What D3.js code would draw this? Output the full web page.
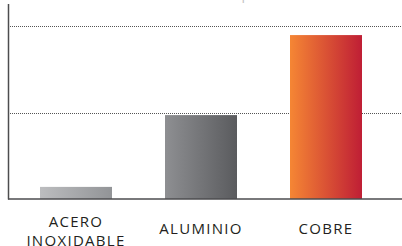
<!DOCTYPE html>
<html>
<head>
    <meta charset="utf-8">
    <title>Conductividad térmica</title>
    <script src="https://d3js.org/d3.v7.min.js"></script>
    <style>
        body {
            margin: 0;
            background: #fff;
        }
        .label {
            font-family: "Open Sans", sans-serif;
            font-size: 15px;
            letter-spacing: 1.3px;
            fill: #231f20;
        }
    </style>
</head>
<body>
    <div id="chart"></div>
    <script>
        // data
        const materials = ["ACERO INOXIDABLE", "ALUMINIO", "COBRE"];
        const values = [28, 194, 379];
        const gridTicks = [200, 400];
        const gradients = [
            ["#bcbdbf", "#929497"],
            ["#8e8f92", "#5a5b5e"],
            ["#f58634", "#bf1e35"]
        ];

        const width = 402, height = 246;

        const svg = d3.select("#chart")
            .append("svg")
            .attr("width", width)
            .attr("height", height);

        const x = d3.scaleBand()
            .domain(materials)
            .range([13.5, 388.5])
            .paddingInner(0.424)
            .paddingOuter(0.212);

        const y = d3.scaleLinear()
            .domain([0, 400])
            .range([199, 26]);

        // gradients
        const defs = svg.append("defs");
        materials.forEach((m, i) => {
            const g = defs.append("linearGradient")
                .attr("id", "grad" + i)
                .attr("x1", "0%").attr("x2", "100%")
                .attr("y1", "0%").attr("y2", "0%");
            g.append("stop").attr("offset", "0%").attr("stop-color", gradients[i][0]);
            g.append("stop").attr("offset", "100%").attr("stop-color", gradients[i][1]);
        });

        // clipped title line at the very top
        svg.append("text")
            .attr("x", 38)
            .attr("y", -1)
            .style("font-family", "'Open Sans', sans-serif")
            .style("font-size", "14px")
            .style("letter-spacing", "1px")
            .style("fill", "#c4c4c4")
            .text("Conductividad térmica comparada de los metales (W/m·K)");

        // dotted gridlines
        svg.append("g")
            .selectAll("line")
            .data(gridTicks)
            .enter()
            .append("line")
            .attr("x1", 10)
            .attr("x2", width)
            .attr("y1", d => Math.round(y(d)) + 0.5)
            .attr("y2", d => Math.round(y(d)) + 0.5)
            .attr("stroke", "#555")
            .attr("stroke-width", 1)
            .attr("stroke-dasharray", "1,1");

        // bars
        svg.append("g")
            .selectAll("rect")
            .data(values)
            .enter()
            .append("rect")
            .attr("x", (d, i) => x(materials[i]))
            .attr("y", d => y(d))
            .attr("width", x.bandwidth())
            .attr("height", d => y(0) - y(d))
            .attr("fill", (d, i) => `url(#grad${i})`);

        // axis lines
        svg.append("line")
            .attr("x1", 8.5).attr("x2", 8.5)
            .attr("y1", 4).attr("y2", 199.5)
            .attr("stroke", "#4d4d4f")
            .attr("stroke-width", 1.5);

        svg.append("line")
            .attr("x1", 8).attr("x2", width)
            .attr("y1", 199).attr("y2", 199)
            .attr("stroke", "#4d4d4f")
            .attr("stroke-width", 1.5);

        // category labels
        const label = svg.append("g")
            .selectAll("text")
            .data(materials)
            .enter()
            .append("text")
            .attr("class", "label")
            .attr("text-anchor", "middle")
            .attr("x", d => x(d) + x.bandwidth() / 2);

        label.each(function(d) {
            const words = d.split(" ");
            const t = d3.select(this);
            if (words.length > 1) {
                words.forEach((w, i) => {
                    t.append("tspan")
                        .attr("x", x(d) + x.bandwidth() / 2)
                        .attr("y", 226.5 + i * 19.5)
                        .text(w);
                });
            } else {
                t.attr("y", 234).text(d);
            }
        });
    </script>
</body>
</html>
